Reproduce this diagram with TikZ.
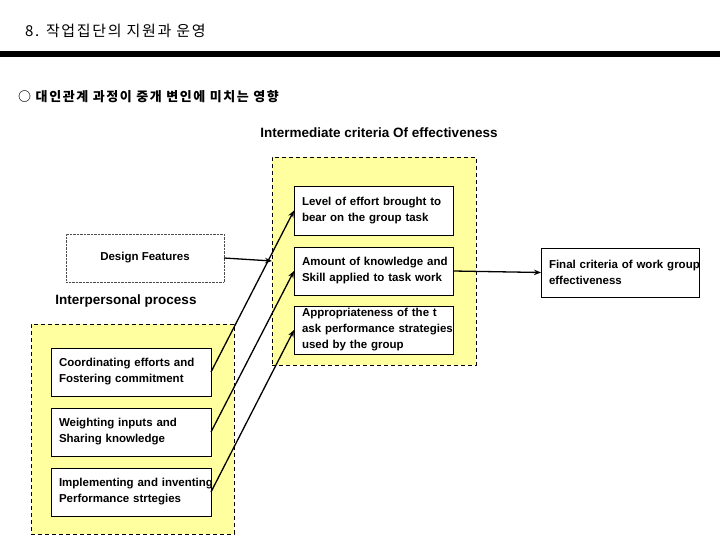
\documentclass[tikz,border=0pt]{standalone}
\usepackage{fontspec}
\setmainfont{Liberation Sans}
\newfontfamily\krtitle{Noto Sans CJK KR}[LetterSpace=11]
\newfontfamily\krtopic{Noto Sans CJK KR}[LetterSpace=12]
\usetikzlibrary{arrows.meta}
\definecolor{zoneyellow}{RGB}{255,255,160}
\tikzset{
  zone/.style={draw, fill=zoneyellow, dash pattern=on 4pt off 3pt, line width=0.8pt,
    anchor=north west, inner sep=0pt, outer sep=0pt},
  critbox/.style={draw, fill=white, line width=0.8pt, anchor=north west, align=left,
    inner xsep=8pt, inner ysep=0pt, outer sep=0pt, text width=#1,
    font=\bfseries\fontsize{11.5}{16}\selectfont},
  critbox/.default=143pt,
  heading/.style={font=\bfseries\fontsize{13.5}{16}\selectfont, inner sep=0pt},
  link/.style={-{Stealth[length=7pt,width=5.5pt]}, line width=1.3pt}
}
\newcommand{\boxline}[1]{\mbox{#1}}
\begin{document}
\begin{tikzpicture}[x=1pt, y=-1pt]
  \useasboundingbox (0,0) rectangle (720,540);

  % Title and rule
  \node[anchor=west, inner sep=0pt, font=\krtitle\fontsize{15}{17}\selectfont] (title) at (25,31)
    {8. 작업집단의 지원과 운영};
  \fill (0,51) rectangle (720,57);
  \node[anchor=west, inner sep=0pt, font=\krtopic\bfseries\fontsize{13}{16}\selectfont] (topic) at (18,97)
    {○ 대인관계 과정이 중개 변인에 미치는 영향};

  % Intermediate criteria
  \node[heading] (midhead) at (379,133) {Intermediate criteria Of effectiveness};
  \node[zone, minimum width=204pt, minimum height=208pt] (midzone) at (272,157) {};
  \node[critbox, minimum height=49pt] (effort) at (294,186)
    {\boxline{Level of effort brought to}\\\boxline{bear on the group task}};
  \node[critbox, minimum height=48pt] (knowledge) at (294,247)
    {\boxline{Amount of knowledge and}\\\boxline{Skill applied to task work}};
  \node[critbox, minimum height=48pt] (strategy) at (294,306)
    {\boxline{Appropriateness of the t}\\\boxline{ask performance strategies}\\\boxline{used by the group}};

  % Design features
  \node[draw=black!70, densely dotted, thin, anchor=north west, minimum width=158pt,
    minimum height=48pt, outer sep=0pt, font=\bfseries\fontsize{11.5}{16}\selectfont]
    (design) at (66,234) {Design Features};

  % Interpersonal process
  \node[heading] (prochead) at (126,301) {Interpersonal process};
  \node[zone, minimum width=203pt, minimum height=210pt] (leftzone) at (31,324) {};
  \node[critbox=144pt, minimum height=48pt] (coordinate) at (51,348)
    {\boxline{Coordinating efforts and}\\\boxline{Fostering commitment}};
  \node[critbox=144pt, minimum height=48pt] (weighting) at (51,408)
    {\boxline{Weighting inputs and}\\\boxline{Sharing knowledge}};
  \node[critbox=144pt, minimum height=48pt] (implement) at (51,468)
    {\boxline{Implementing and inventing}\\\boxline{Performance strtegies}};

  % Final criteria
  \node[critbox=142pt, minimum height=49pt] (final) at (541,248)
    {\boxline{Final criteria of work group}\\\boxline{effectiveness}};

  \draw[link] (design.east) -- (midzone.west);
  \draw[link] (coordinate.east) -- (effort.west);
  \draw[link] (weighting.east) -- (knowledge.west);
  \draw[link] (implement.east) -- (strategy.west);
  \draw[link] (knowledge.east) -- (final.west);
\end{tikzpicture}
\end{document}
